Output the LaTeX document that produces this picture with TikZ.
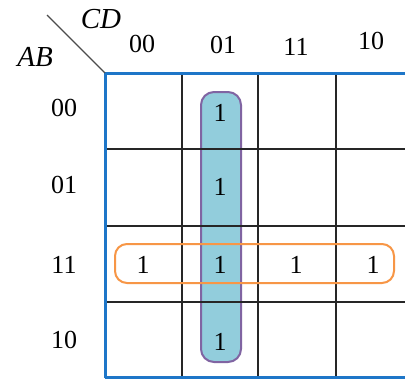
\documentclass[tikz,border=0pt]{standalone}
\usepackage{fontspec}
\setmainfont{Liberation Serif}
\definecolor{kblue}{RGB}{30,118,200}
\definecolor{kfill}{RGB}{146,205,220}
\definecolor{kpurple}{RGB}{128,100,162}
\definecolor{korange}{RGB}{247,150,70}
\begin{document}
\begin{tikzpicture}[x=1pt,y=-1pt,
  lbl/.style={font=\fontsize{26}{30}\selectfont, inner sep=0pt},
  var/.style={font=\fontsize{29}{32}\selectfont\itshape, inner sep=0pt},
  gridline/.style={line width=2pt, draw=black!85},
  frame/.style={line width=3pt, draw=kblue},
  purplegroup/.style={fill=kfill, draw=kpurple, line width=2pt, rounded corners=13pt},
  orangegroup/.style={draw=korange, line width=2pt, rounded corners=12pt},
  diag/.style={line width=1.2pt, draw=black!70}
]
\useasboundingbox (0,0) rectangle (405,380);
\clip (0,0) rectangle (405,380);
\fill[white] (0,0) rectangle (405,380);
% group of column 01
\draw[purplegroup] (201,92) rectangle (241,362);
% inner grid
\foreach \x in {182,258,336} \draw[gridline] (\x,73) -- (\x,378);
\foreach \y in {149,226,302} \draw[gridline] (105,\y) -- (413,\y);
% frame
\coordinate (corner) at (105,73);
\coordinate (diagstart) at (47,15);
\draw[frame] (105,378) -- (corner) -- (413,73);
\draw[frame] (105,377) -- (413,377);
\draw[diag] (diagstart) -- (corner);
% group of row 11
\draw[orangegroup] (115,244) rectangle (394,283);
% variable names
\node[var] (cd) at (101,19) {CD};
\node[var] (ab) at (35,57) {AB};
% column labels
\node[lbl] (c00) at (142,44) {00};
\node[lbl] (c01) at (223,45) {01};
\node[lbl] (c11) at (296,47) {11};
\node[lbl] (c10) at (371,41) {10};
% row labels
\node[lbl] (r00) at (64,108) {00};
\node[lbl] (r01) at (64,185) {01};
\node[lbl] (r11) at (64,265) {11};
\node[lbl] (r10) at (64,340) {10};
% cell values
\node[lbl] (m0001) at (220,113) {1};
\node[lbl] (m0101) at (220,187) {1};
\node[lbl] (m1100) at (143,265) {1};
\node[lbl] (m1101) at (220,265) {1};
\node[lbl] (m1111) at (296,265) {1};
\node[lbl] (m1110) at (373,265) {1};
\node[lbl] (m1001) at (220,342) {1};
\end{tikzpicture}
\end{document}
